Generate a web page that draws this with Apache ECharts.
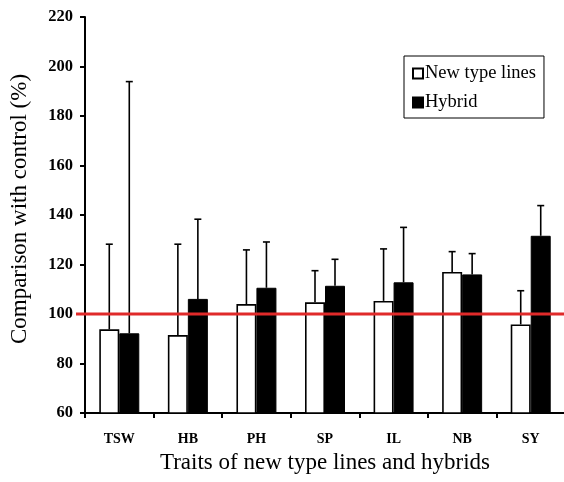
<!DOCTYPE html>
<html>
<head>
<meta charset="utf-8">
<script src="https://cdn.jsdelivr.net/npm/echarts@6/dist/echarts.min.js"></script>
<style>
  html, body { margin: 0; padding: 0; background: #fff; }
  #chart { width: 564px; height: 482px; }
</style>
</head>
<body>
<div id="chart"></div>
<script>
// traits on the x axis
var traits = ['TSW', 'HB', 'PH', 'SP', 'IL', 'NB', 'SY'];
// bar heights (% of control)
var newTypeLines = [93.8, 91.5, 104.0, 104.7, 105.3, 117.0, 95.8];
var hybrid = [92.2, 106.1, 110.6, 111.4, 112.8, 116.0, 131.6];
// tops of the error bars
var newTypeErrTop = [128.2, 128.2, 125.9, 117.5, 126.3, 125.2, 109.4];
var hybridErrTop = [193.9, 138.3, 129.1, 122.1, 135.0, 124.4, 143.8];
var controlLevel = 100;
var yTicks = { min: 60, max: 220, interval: 20 };

var serif = '"Liberation Serif", "Times New Roman", serif';
var chart = echarts.init(document.getElementById('chart'));

function errorBars(values, tops, shift) {
    return {
        type: 'custom',
        z: 5,
        silent: true,
        data: traits.map(function (t, i) { return [i, values[i], tops[i]]; }),
        renderItem: function (params, api) {
            var base = api.coord([api.value(0), api.value(1)]);
            var top = api.coord([api.value(0), api.value(2)]);
            var x = base[0] + shift;
            var style = { stroke: '#000', lineWidth: 1.6 };
            return {
                type: 'group',
                children: [
                    { type: 'line', shape: { x1: x, y1: base[1], x2: x, y2: top[1] }, style: style },
                    { type: 'line', shape: { x1: x - 3.5, y1: top[1], x2: x + 3.5, y2: top[1] }, style: style }
                ]
            };
        }
    };
}

chart.setOption({
    backgroundColor: '#fff',
    animation: false,
    grid: { left: 85, top: 17, right: -1, bottom: 69, outerBoundsMode: 'none', containLabel: false },
    legend: {
        left: 404, top: 56, width: 140, height: 61,
        orient: 'vertical',
        padding: [8, 8, 6, 8],
        itemGap: 10,
        itemWidth: 10, itemHeight: 10,
        borderColor: '#000', borderWidth: 1,
        textStyle: { fontFamily: serif, fontSize: 18.5, color: '#000', padding: [0, 0, 0, -3] },
        data: [
            { name: 'New type lines', icon: 'rect' },
            { name: 'Hybrid', icon: 'rect' }
        ]
    },
    xAxis: {
        type: 'category',
        data: traits,
        name: 'Traits of new type lines and hybrids',
        nameLocation: 'middle',
        nameGap: 38,
        nameTextStyle: { fontFamily: serif, fontSize: 23, color: '#000' },
        axisLine: { lineStyle: { color: '#000', width: 2 } },
        axisTick: { show: true, length: 5, lineStyle: { color: '#000', width: 2 } },
        axisLabel: { fontFamily: serif, fontWeight: 'bold', fontSize: 14, color: '#000', margin: 19 }
    },
    yAxis: {
        type: 'value',
        min: yTicks.min, max: yTicks.max, interval: yTicks.interval,
        name: 'Comparison with control (%)',
        nameLocation: 'middle',
        nameRotate: 90,
        nameGap: 54,
        nameTextStyle: { fontFamily: serif, fontSize: 23, color: '#000', padding: [0, 0, 0, 12] },
        splitLine: { show: false },
        axisLine: { show: true, lineStyle: { color: '#000', width: 2 } },
        axisTick: { show: true, length: 5, lineStyle: { color: '#000', width: 2 } },
        axisLabel: { fontFamily: serif, fontWeight: 'bold', fontSize: 16.5, color: '#000', margin: 12 }
    },
    series: [
        {
            name: 'New type lines',
            type: 'bar',
            data: newTypeLines,
            barWidth: 20,
            barGap: '0%',
            itemStyle: { color: '#fff', borderColor: '#000', borderWidth: 1.6 }
        },
        {
            name: 'Hybrid',
            type: 'bar',
            data: hybrid,
            barWidth: 20,
            itemStyle: { color: '#000', borderColor: '#000', borderWidth: 1 }
        },
        errorBars(newTypeLines, newTypeErrTop, -10),
        errorBars(hybrid, hybridErrTop, 10),
        {
            type: 'custom',
            z: 10,
            silent: true,
            data: [[0, controlLevel]],
            renderItem: function (params, api) {
                var y = api.coord([0, api.value(1)])[1];
                var cs = params.coordSys;
                return {
                    type: 'line',
                    shape: { x1: cs.x - 9, y1: y, x2: cs.x + cs.width + 2, y2: y },
                    style: { stroke: '#e02a2a', lineWidth: 3 }
                };
            }
        }
    ]
});
</script>
</body>
</html>
